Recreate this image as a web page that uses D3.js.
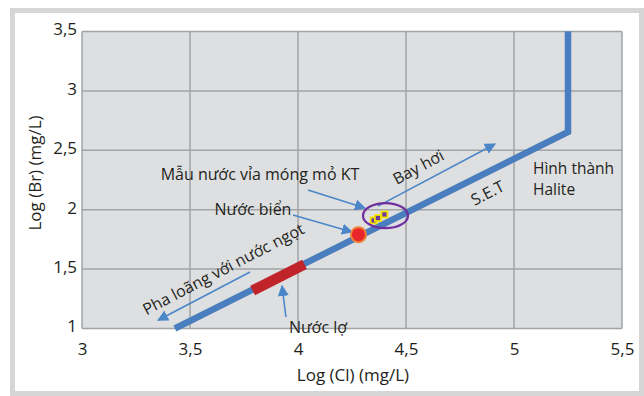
<!DOCTYPE html>
<html>
<head>
<meta charset="utf-8">
<script src="https://cdn.jsdelivr.net/npm/d3@7"></script>
<style>
  body { margin: 0; background: #fff; }
  svg { display: block; font-family: "Open Sans", sans-serif; }
  text { fill: #231f20; }
</style>
</head>
<body>
<svg width="644" height="396"></svg>
<script>
// S.E.T (seawater evaporation trajectory)
const setX = [3.43, 5.25, 5.25];
const setY = [1, 2.655, 3.5];
// brackish water band (Nước lợ)
const brackishX = [3.79, 4.03];
const brackishY = [1.32, 1.54];
// seawater point
const seaX = [4.28];
const seaY = [1.79];
// formation water samples
const sampleX = [4.35, 4.37, 4.40];
const sampleY = [1.91, 1.93, 1.96];
const xTicks = [3, 3.5, 4, 4.5, 5, 5.5];
const yTicks = [1, 1.5, 2, 2.5, 3, 3.5];

const width = 644;
const height = 396;
const marginLeft = 82;
const marginRight = 22;
const marginTop = 31.5;
const marginBottom = 67.5;

const svg = d3.select("svg");

// outer frame
svg.append("rect")
  .attr("x", 12.5).attr("y", 10.5)
  .attr("width", 629).attr("height", 383)
  .attr("fill", "#fff")
  .attr("stroke", "#d6d6d6")
  .attr("stroke-width", 5);

const x = d3.scaleLinear([3, 5.5], [marginLeft, width - marginRight]);
const y = d3.scaleLinear([1, 3.5], [height - marginBottom, marginTop]);
const fmt = (d) => String(d).replace(".", ",");

svg.append("rect")
  .attr("x", x(3)).attr("y", y(3.5))
  .attr("width", x(5.5) - x(3)).attr("height", y(1) - y(3.5))
  .attr("fill", "#dedfe1");

// grid
svg.append("g")
  .selectAll("line")
  .data(xTicks)
  .join("line")
  .attr("x1", (d) => x(d)).attr("x2", (d) => x(d))
  .attr("y1", y(1)).attr("y2", y(3.5))
  .attr("stroke", "#a2a3a5").attr("stroke-width", 1.5);

svg.append("g")
  .selectAll("line")
  .data(yTicks)
  .join("line")
  .attr("x1", x(3)).attr("x2", x(5.5))
  .attr("y1", (d) => y(d)).attr("y2", (d) => y(d))
  .attr("stroke", "#a2a3a5").attr("stroke-width", 1.5);

// axes (labels only)
const xAxis = svg.append("g")
  .attr("transform", `translate(0,${y(1)})`)
  .call(d3.axisBottom(x).tickValues(xTicks).tickFormat(fmt).tickSize(0).tickPadding(14));
const yAxis = svg.append("g")
  .attr("transform", `translate(${x(3)},0)`)
  .call(d3.axisLeft(y).tickValues(yTicks).tickFormat(fmt).tickSize(0).tickPadding(5));
[xAxis, yAxis].forEach((g) => {
  g.select(".domain").remove();
  g.selectAll("text").attr("font-size", 17).attr("font-family", "Open Sans").attr("fill", "#231f20");
});
yAxis.selectAll("text").attr("dy", "0.2em");

svg.append("text")
  .attr("x", 353).attr("y", 381)
  .attr("text-anchor", "middle")
  .attr("font-size", 17)
  .text("Log (Cl) (mg/L)");

svg.append("text")
  .attr("transform", "translate(41,173) rotate(-90)")
  .attr("text-anchor", "middle")
  .attr("font-size", 17)
  .text("Log (Br) (mg/L)");

// arrowhead
svg.append("defs").append("marker")
  .attr("id", "arr")
  .attr("viewBox", "0 0 10 10")
  .attr("refX", 9).attr("refY", 5)
  .attr("markerWidth", 7).attr("markerHeight", 7)
  .attr("markerUnits", "strokeWidth")
  .attr("orient", "auto")
  .append("path")
  .attr("d", "M0,0L10,5L0,10Z")
  .attr("fill", "#4a86c8");

const line = d3.line().x((d) => x(d[0])).y((d) => y(d[1]));

// S.E.T line
svg.append("path")
  .datum(d3.zip(setX, setY))
  .attr("d", line)
  .attr("fill", "none")
  .attr("stroke", "#4a7ebf")
  .attr("stroke-width", 6.5)
  .attr("stroke-linejoin", "miter");

svg.append("path")
  .datum(d3.zip(brackishX, brackishY))
  .attr("d", line)
  .attr("stroke", "#c1232b")
  .attr("stroke-width", 10.5);

// annotation arrows
const arrows = [
  [[4.37, 2.03], [4.912, 2.553]],
  [[3.778, 1.476], [3.352, 1.07]],
  [[3.944, 1.097], [3.926, 1.358]],
  [[3.977, 1.955], [4.25, 1.812]],
  [[4.046, 2.166], [4.31, 2.014]]
];
svg.append("g")
  .selectAll("path")
  .data(arrows)
  .join("path")
  .attr("d", line)
  .attr("stroke", "#4a86c8")
  .attr("stroke-width", 1.6)
  .attr("marker-end", "url(#arr)");

// seawater
svg.append("g")
  .selectAll("circle")
  .data(seaX)
  .join("circle")
  .attr("cx", (d) => x(d))
  .attr("cy", (d, i) => y(seaY[i]))
  .attr("r", 7.5)
  .attr("fill", "#e8262a")
  .attr("stroke", "#ef7f33")
  .attr("stroke-width", 2);

// samples
const s = 6;
svg.append("g")
  .selectAll("rect")
  .data(sampleX)
  .join("rect")
  .attr("x", (d) => x(d) - s / 2)
  .attr("y", (d, i) => y(sampleY[i]) - s / 2)
  .attr("width", s).attr("height", s)
  .attr("fill", "#6a3a9b")
  .attr("stroke", "#f4e400")
  .attr("stroke-width", 1.8);

svg.append("ellipse")
  .attr("cx", x(4.405)).attr("cy", y(1.95))
  .attr("rx", 22.5).attr("ry", 12.5)
  .attr("fill", "none")
  .attr("stroke", "#6f2f9f")
  .attr("stroke-width", 2.2);

// annotation text
const notes = [
  { t: "Mẫu nước vỉa móng mỏ KT", x: 260, y: 180, r: 0 },
  { t: "Nước biển", x: 253, y: 215, r: 0 },
  { t: "Nước lợ", x: 318, y: 333, r: 0 },
  { t: "Bay hơi", x: 421, y: 172, r: -28 },
  { t: "S.E.T", x: 490, y: 198, r: -27 },
  { t: "Pha loãng với nước ngọt", x: 226, y: 274, r: -27.5 }
];
svg.append("g")
  .selectAll("text")
  .data(notes)
  .join("text")
  .attr("transform", (d) => `translate(${d.x},${d.y}) rotate(${d.r})`)
  .attr("text-anchor", "middle")
  .attr("font-size", 16)
  .text((d) => d.t);

svg.append("text")
  .attr("x", 533).attr("y", 174)
  .attr("font-size", 15.5)
  .text("Hình thành");
svg.append("text")
  .attr("x", 533).attr("y", 195)
  .attr("font-size", 15.5)
  .text("Halite");
</script>
</body>
</html>
